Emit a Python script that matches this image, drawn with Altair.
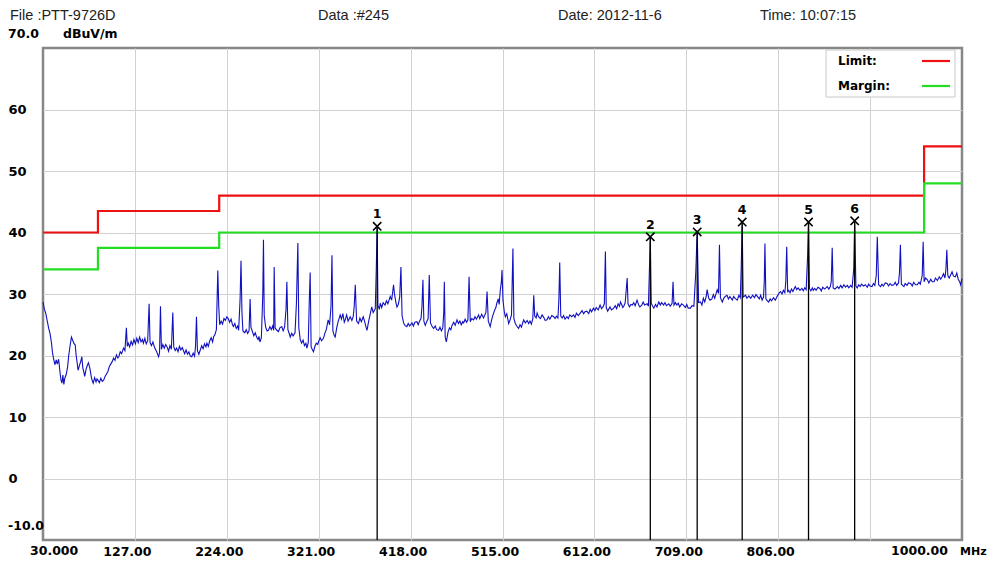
import altair as alt
import pandas as pd

# ---------------- data ----------------
limit_freq = [30, 88, 216, 960, 1000]
limit_level = [40, 43.5, 46, 54, 54]
margin_level = [34, 37.5, 40, 48, 48]

marker_freq = [382.7, 671.0, 720.5, 768.0, 838.0, 886.7]
marker_level = [41.0, 39.3, 40.1, 41.7, 41.7, 41.9]
marker_label = ["1", "2", "3", "4", "5", "6"]

x_grid_ticks = [127, 224, 321, 418, 515, 612, 709, 806, 903]
y_grid_ticks = [0, 10, 20, 30, 40, 50, 60]

header_texts = ["File :PTT-9726D", "Data :#245", "Date: 2012-11-6", "Time: 10:07:15"]

# measured trace (frequency MHz, level dBuV/m)
trace_points = [
    (30, 28.7), (31.5, 27.5), (33, 26.8), (34.5, 25.6), (36, 24.4), (37.5, 23.5), (39, 22.0),
    (40, 20.5), (41, 19.6), (42.5, 18.5), (44, 19.3), (45, 18.6), (46.5, 19.4), (48, 17.2),
    (49, 16.0), (50, 15.5), (51, 16.8), (52, 15.3), (53, 16.3), (54.5, 16.9), (56, 18.2),
    (57, 19.8), (58.5, 21.5), (60, 23.0), (61, 22.6), (62.5, 22.0), (64, 21.7), (65, 20.0),
    (66, 18.9), (67, 17.6), (68.5, 18.4), (70, 19.1), (71, 19.8), (72, 18.0), (73, 17.4),
    (74, 16.6), (75.5, 17.8), (77, 18.5), (78, 18.8), (79.5, 17.9), (81, 16.5), (82, 15.9),
    (83, 15.5), (84.5, 16.4), (86, 15.7), (87, 16.2), (88, 16.0), (89.5, 15.6), (91, 16.3),
    (92.5, 15.8), (94, 16.0), (95.5, 16.6), (97, 17.0), (98.5, 17.4), (100, 18.2), (101.5, 18.6),
    (103, 19.0), (104.5, 19.6), (106, 19.2), (107.5, 20.1), (109, 19.6), (110, 19.8),
    (111.5, 20.6), (113, 20.3), (115, 21.2), (116.5, 20.8), (118, 24.5), (119, 21.5),
    (120, 22.0), (121.5, 21.4), (123, 22.3), (124.5, 21.7), (126, 22.6), (127.5, 21.9),
    (129, 22.8), (130.5, 22.1), (132, 23.0), (133.5, 22.2), (135, 22.6), (136, 22.0),
    (137.5, 22.8), (139, 21.9), (140.5, 22.4), (142, 28.4), (143, 22.1), (144.5, 21.6),
    (146, 22.2), (148, 21.2), (150, 20.6), (152, 19.8), (153, 20.4), (154, 28.0), (155, 21.0),
    (156.5, 21.8), (158, 21.2), (159.5, 21.8), (161, 21.4), (162.5, 20.7), (164, 21.6),
    (165.5, 21.0), (167, 27.0), (168, 21.4), (169.5, 20.8), (171, 21.2), (172.5, 20.6),
    (174, 21.5), (175.5, 20.9), (177, 21.3), (178, 20.9), (179.5, 20.3), (181, 20.9),
    (182.5, 20.2), (184, 20.6), (185.5, 19.9), (187, 19.8), (188.5, 20.4), (190, 19.9),
    (191, 21.5), (192, 26.3), (193, 20.8), (194.5, 20.2), (196, 20.9), (197.5, 21.6),
    (199, 21.1), (200.5, 21.9), (202, 21.4), (203, 22.0), (204.5, 21.5), (206, 22.4),
    (207.5, 22.9), (209, 22.2), (210, 23.0), (211.5, 23.4), (213, 24.2), (214.5, 33.8),
    (215.5, 28.0), (216.5, 25.0), (218, 25.6), (219.5, 25.1), (221, 26.0), (222.5, 25.7),
    (224, 26.3), (225.5, 26.0), (227, 25.4), (228.5, 25.9), (230, 25.0), (231, 24.7),
    (232.5, 25.2), (234, 24.4), (235.5, 24.8), (236.5, 24.1), (238, 29.0), (239, 35.4),
    (240, 27.0), (241, 24.0), (243, 23.7), (244.5, 24.2), (246, 23.6), (247.5, 24.0),
    (248.6, 29.2), (249.5, 24.6), (251, 23.9), (252.5, 23.2), (254, 23.7), (255.5, 23.0),
    (257, 22.6), (258, 23.1), (259, 22.2), (260.5, 22.9), (262, 30.0), (262.7, 38.8),
    (263.5, 26.5), (265, 24.6), (266.5, 24.0), (268, 24.1), (269.5, 24.7), (271, 24.2),
    (272.5, 24.8), (273.5, 24.1), (274, 34.4), (275, 24.5), (276.8, 24.1), (278.5, 23.9),
    (280, 24.5), (282, 24.7), (283.5, 24.0), (285, 24.6), (286.5, 27.5), (287.4, 32.0),
    (288.5, 24.2), (290, 23.5), (291, 23.0), (292.5, 23.6), (294, 23.2), (296, 23.7),
    (297.5, 28.5), (299, 38.3), (300, 24.5), (301.5, 22.6), (303, 22.0), (304.5, 22.5),
    (306, 21.6), (307.5, 22.0), (308.5, 21.2), (310, 22.1), (311, 28.5), (312, 33.5),
    (313, 21.4), (314.5, 20.9), (315.5, 20.6), (317, 21.5), (318.5, 22.0), (320, 21.8),
    (320.8, 22.2), (322.5, 22.9), (324, 22.4), (326, 22.8), (327.5, 23.6), (329, 24.2),
    (331, 25.8), (332.5, 25.0), (334, 28.0), (335, 36.3), (336, 24.0), (337.5, 23.2),
    (338.4, 23.0), (340, 24.5), (341.5, 25.5), (343.7, 26.6), (345, 25.9), (346.5, 26.8),
    (348, 25.4), (349, 25.8), (350.5, 26.6), (352, 25.6), (354.3, 26.3), (356, 25.7),
    (357.5, 26.4), (358.5, 28.0), (359.6, 31.5), (361, 25.6), (363, 25.2), (364.5, 26.1),
    (366, 25.5), (368, 26.3), (369.5, 25.5), (371, 24.6), (372, 24.1), (373.5, 25.4),
    (375, 26.5), (377, 27.9), (378.5, 27.0), (380.7, 27.6), (381.8, 34.2), (382.7, 41.0),
    (383.5, 28.2), (385, 27.5), (386, 28.5), (387.5, 27.8), (389, 28.6), (391, 28.2),
    (392.5, 28.9), (394, 28.4), (396.5, 29.6), (398, 29.0), (399, 30.2), (400, 31.5),
    (401, 30.0), (402.5, 28.6), (403.6, 27.9), (405, 28.3), (406.5, 29.5), (407.8, 34.4),
    (409, 26.5), (410.6, 25.3), (412, 24.9), (414, 24.7), (415.5, 25.2), (417, 24.8),
    (419.5, 25.3), (421, 24.8), (422.5, 25.4), (424.7, 25.5), (426, 25.0), (427.5, 25.6),
    (429, 26.0), (430, 28.0), (431, 32.3), (432, 25.6), (433.5, 24.9), (435, 25.5),
    (436.5, 26.0), (437.7, 33.1), (439, 25.3), (440.5, 24.8), (442.3, 24.4), (444, 24.8),
    (445.5, 24.2), (447.5, 24.1), (449, 24.6), (450.5, 24.0), (452, 24.5), (453, 27.0),
    (453.6, 32.0), (454.5, 23.0), (455.7, 22.2), (457.5, 23.8), (459, 24.5), (460.5, 24.2),
    (461.7, 24.9), (463.5, 25.4), (465, 24.9), (467, 25.8), (468.5, 25.2), (470, 25.6),
    (471.5, 25.0), (473, 25.5), (474, 25.3), (475.5, 25.9), (477, 25.4), (478.5, 25.8),
    (479.7, 32.8), (481, 25.5), (482.5, 26.0), (484.5, 25.8), (486, 26.3), (487.5, 25.9),
    (489.8, 26.6), (491, 26.0), (493, 26.7), (495, 26.1), (497.5, 27.0), (498.7, 30.4),
    (500, 25.6), (502, 24.7), (503.5, 25.8), (505, 26.6), (506.5, 27.3), (508, 27.8),
    (509, 28.5), (510.5, 29.2), (511.5, 28.3), (512.7, 30.7), (513.7, 31.8), (514.5, 33.9),
    (515.5, 29.0), (517, 27.0), (518, 26.3), (519.5, 26.8), (521.5, 25.2), (523, 25.8),
    (524.5, 26.6), (526, 37.4), (527, 26.0), (528.6, 25.2), (530, 24.8), (532, 24.4),
    (533.5, 25.0), (535, 24.6), (536.5, 25.4), (537.4, 25.8), (539, 25.3), (541, 25.7),
    (542.6, 25.2), (544, 25.6), (545.5, 25.1), (547, 26.0), (548, 29.8), (549, 26.4),
    (550.5, 26.1), (551.5, 26.9), (553, 26.3), (555, 26.0), (556.8, 26.6), (558.5, 26.2),
    (560, 25.7), (562, 25.8), (563.5, 26.3), (565, 25.9), (567, 26.5), (569, 26.3),
    (570.5, 26.0), (572, 26.4), (573.5, 26.1), (574.5, 29.0), (575.4, 35.1), (576.5, 26.4),
    (578, 26.1), (579.5, 26.5), (581, 25.9), (583, 26.3), (584.5, 26.0), (586, 26.6),
    (588, 26.3), (590, 26.6), (591.5, 26.2), (593, 26.9), (595, 26.5), (597, 26.9),
    (599, 27.3), (600.5, 26.8), (602, 27.1), (604, 27.2), (606, 26.8), (607.5, 27.5),
    (609, 27.1), (611, 27.7), (612.5, 27.3), (614, 27.8), (616, 27.4), (618, 28.2),
    (619.5, 27.6), (621, 27.9), (622.5, 28.4), (623.6, 36.9), (624.5, 27.8), (626, 27.2),
    (627, 27.5), (628.5, 27.9), (630, 27.4), (632.4, 27.7), (634, 28.1), (635.5, 27.6),
    (637, 28.4), (638.5, 28.0), (639.5, 28.7), (641, 28.2), (642, 27.8), (643, 28.0),
    (644.5, 28.6), (646.6, 32.6), (647.5, 28.4), (649, 27.9), (650.5, 28.3), (652, 28.2),
    (653.5, 28.6), (655, 28.1), (657, 29.0), (658.5, 28.3), (660, 27.9), (662, 28.2),
    (663.5, 28.7), (665, 28.2), (667.7, 28.4), (669, 28.0), (670, 33.5), (671, 39.3),
    (672, 28.5), (673.5, 28.0), (674.7, 27.7), (676.5, 28.3), (678, 27.9), (680, 28.7),
    (681.5, 28.2), (683, 28.6), (685, 28.2), (686.5, 28.6), (688, 28.1), (690.5, 28.4),
    (692, 28.0), (694, 28.5), (695, 32.0), (696, 28.2), (697.5, 28.6), (699, 28.2),
    (700.5, 28.5), (702, 27.9), (704, 28.4), (706, 28.2), (708, 27.8), (709.5, 28.3),
    (711, 27.7), (713.4, 27.7), (715, 28.1), (717, 28.0), (719, 33.5), (720.5, 40.1),
    (722, 28.6), (724, 28.7), (725.5, 28.2), (727, 29.3), (728.5, 28.7), (730, 29.6),
    (731, 30.7), (732.5, 29.4), (734, 29.0), (736, 29.2), (737.5, 29.9), (739, 29.3),
    (741.6, 30.7), (743, 30.1), (744, 38.0), (745, 29.4), (747, 28.7), (748.5, 29.3),
    (750, 29.6), (752, 29.8), (753.5, 29.2), (755, 29.6), (757.5, 29.0), (759, 29.6),
    (760.5, 29.3), (762.8, 29.0), (764.5, 29.8), (766, 29.4), (767, 34.5), (768, 41.7),
    (769, 29.5), (771.5, 29.8), (773, 29.3), (775, 29.7), (777, 29.3), (779, 29.8),
    (781, 29.4), (782.5, 29.9), (784, 29.6), (786, 29.2), (787.5, 29.8), (789, 29.0),
    (790.5, 29.5), (791.3, 32.0), (792, 38.2), (793, 29.2), (794.5, 28.9), (796, 28.7),
    (797.5, 29.2), (799, 28.9), (801, 29.4), (803, 29.0), (804.5, 29.5), (806, 29.9),
    (807, 30.2), (808.5, 30.4), (810, 30.0), (811.5, 30.6), (813, 30.2), (814, 32.0),
    (815, 37.7), (816, 30.3), (817, 30.6), (818.5, 30.2), (820, 30.8), (821.5, 30.4),
    (823, 30.9), (824, 31.2), (825.5, 30.7), (827, 31.0), (829, 30.6), (831, 30.9),
    (832.5, 30.5), (834, 31.0), (835.5, 30.7), (837, 36.0), (838, 41.7), (839, 30.9),
    (840.5, 30.5), (842, 31.0), (843, 30.6), (844.5, 30.9), (846, 30.6), (848, 31.1),
    (850, 30.9), (851.5, 30.5), (853, 31.1), (855, 30.8), (857.8, 31.2), (859.5, 30.8),
    (861, 31.2), (862, 32.0), (863, 37.5), (864, 31.0), (866, 30.8), (868.4, 31.2),
    (870, 30.9), (872, 31.4), (873.5, 31.0), (875.4, 31.5), (877, 31.1), (879, 31.4),
    (880.5, 31.0), (882.5, 31.4), (884, 31.1), (885.7, 34.0), (886.7, 41.9), (888, 31.3),
    (889.5, 31.0), (891, 31.5), (892.5, 31.2), (894, 31.6), (896, 31.3), (898, 31.5),
    (900, 31.1), (901.5, 31.6), (903, 31.3), (905, 31.2), (906.5, 31.7), (908, 31.4),
    (909.5, 33.0), (910.6, 39.3), (912, 31.5), (914, 31.2), (915.5, 31.6), (917, 31.3),
    (919, 31.8), (921, 31.7), (922.5, 31.3), (924, 31.7), (926, 31.4), (928, 31.5),
    (929.5, 31.9), (931, 31.4), (933, 31.8), (934, 33.5), (935, 38.0), (936, 31.6),
    (938.7, 31.2), (940, 31.7), (942, 31.4), (943.5, 31.8), (945.8, 31.7), (947.5, 31.3),
    (949, 31.9), (951, 31.5), (952.8, 31.5), (954.5, 31.9), (956, 31.6), (958, 33.0),
    (959, 38.5), (960, 32.0), (961.5, 32.6), (963.5, 32.3), (965, 31.8), (967, 32.4),
    (968.5, 32.0), (970.5, 32.0), (972, 32.6), (974, 32.2), (976, 32.8), (977.5, 32.4),
    (979, 32.8), (980.5, 33.3), (982, 32.6), (983, 34.0), (984, 37.2), (985, 33.0),
    (986.5, 32.6), (988, 33.1), (989.5, 33.6), (991, 32.9), (993, 32.8), (994.5, 33.4),
    (996, 32.4), (997.5, 32.0), (998.5, 31.5), (1000, 32.5),
]

# ---------------- frames ----------------
trace_df = pd.DataFrame(trace_points, columns=["f", "v"])
limit_df = pd.DataFrame({"f": limit_freq, "v": limit_level})
margin_df = pd.DataFrame({"f": limit_freq, "v": margin_level})
marker_df = pd.DataFrame({"f": marker_freq, "v": marker_level, "lab": marker_label, "bottom": -10})
one = pd.DataFrame({"a": [0]})

W, H = 919, 492
FONT_B = "DejaVu Sans"
FONT_H = "Liberation Sans"

xs = alt.Scale(domain=[30, 1000], nice=False, zero=False)
ys = alt.Scale(domain=[-10, 70], nice=False, zero=False)

xa = alt.Axis(
    values=x_grid_ticks, title=None, domain=False, ticks=False, tickSize=0,
    grid=True, gridColor="#d2d2d2", gridWidth=1,
    labelExpr="datum.value == 903 ? '' : format(datum.value, '.2f')",
    labelFont=FONT_B, labelFontWeight="bold", labelFontSize=12.5, labelColor="#000000",
    labelPadding=5, labelOffset=-8, labelOverlap=False, labelFlush=False, labelBound=False,
)
ya = alt.Axis(
    values=y_grid_ticks, title=None, domain=False, ticks=False, tickSize=0,
    grid=True, gridColor="#d2d2d2", gridWidth=1,
    labelFont=FONT_B, labelFontWeight="bold", labelFontSize=13, labelColor="#000000",
    labelAlign="left", labelPadding=35, labelOverlap=False, labelFlush=False,
)

X = alt.X("f:Q", scale=xs, axis=xa)
Y = alt.Y("v:Q", scale=ys, axis=ya)

limit = alt.Chart(limit_df).mark_line(interpolate="step-after", color="#ee1111", strokeWidth=2.2).encode(x=X, y=Y)
margin = alt.Chart(margin_df).mark_line(interpolate="step-after", color="#22dd22", strokeWidth=2.2).encode(x=X, y=Y)
trace = alt.Chart(trace_df).mark_line(color="#1010c0", strokeWidth=1.1).encode(x=X, y=Y)

mk_lines = alt.Chart(marker_df).mark_rule(color="#000000", strokeWidth=1.3).encode(
    x=X, y=Y, y2=alt.Y2("bottom:Q"))
mk_x = alt.Chart(marker_df).mark_point(
    shape="M-1,-1L1,1M-1,1L1,-1", filled=False, color="#000000", strokeWidth=1.6, size=70, opacity=1
).encode(x=X, y=Y)
mk_lab = alt.Chart(marker_df).mark_text(
    font=FONT_B, fontWeight="bold", fontSize=12.5, color="#000000", dy=-12, baseline="middle"
).encode(x=X, y=Y, text="lab:N")

# y labels at the extremes, drawn above their lines as in the reference
ext_df = pd.DataFrame({"v": [70, -10], "lab": ["70.0", "-10.0"], "f": [30, 30]})
ext_top = alt.Chart(ext_df.iloc[[0]]).mark_text(
    font=FONT_B, fontWeight="bold", fontSize=12.5, color="#000000", align="left", baseline="middle", dy=-14
).encode(x=alt.value(-35), y=Y, text="lab:N")
ext_bot = alt.Chart(ext_df.iloc[[1]]).mark_text(
    font=FONT_B, fontWeight="bold", fontSize=12.5, color="#000000", align="left", baseline="middle", dy=-14
).encode(x=alt.value(-35), y=Y, text="lab:N")
unit_y = alt.Chart(one).mark_text(
    text="dBuV/m", font=FONT_B, fontWeight="bold", fontSize=12.5, color="#000000", align="left", baseline="middle"
).encode(x=alt.value(20), y=alt.value(-14))

# x extreme labels
xl_df = pd.DataFrame({"f": [30, 1000], "lab": ["30.000", "1000.00"], "v": [-10, -10]})
x_first = alt.Chart(xl_df.iloc[[0]]).mark_text(
    font=FONT_B, fontWeight="bold", fontSize=12.5, color="#000000", align="left", baseline="top", dx=-13
).encode(x=X, y=alt.value(H + 5), text="lab:N")
x_last = alt.Chart(xl_df.iloc[[1]]).mark_text(
    font=FONT_B, fontWeight="bold", fontSize=12.5, color="#000000", align="right", baseline="top", dx=-14
).encode(x=X, y=alt.value(H + 5), text="lab:N")
x_unit = alt.Chart(one).mark_text(
    text="MHz", font=FONT_B, fontWeight="bold", fontSize=11, color="#000000", align="left", baseline="top"
).encode(x=alt.value(W - 2), y=alt.value(H + 6))

# header
hx = [-33, 275, 515, 717]
headers = [
    alt.Chart(one).mark_text(text=t, font=FONT_H, fontSize=14.5, color="#222222", align="left", baseline="middle")
    .encode(x=alt.value(px), y=alt.value(-32))
    for t, px in zip(header_texts, hx)
]

# legend box
leg_box = alt.Chart(one).mark_rect(fill="#ffffff", stroke="#c8c8c8", strokeWidth=1).encode(
    x=alt.value(783), x2=alt.value(912), y=alt.value(2), y2=alt.value(49))
leg_t1 = alt.Chart(one).mark_text(text="Limit:", font=FONT_B, fontWeight="bold", fontSize=12, color="#000000",
                                  align="left", baseline="middle").encode(x=alt.value(795), y=alt.value(13))
leg_t2 = alt.Chart(one).mark_text(text="Margin:", font=FONT_B, fontWeight="bold", fontSize=12, color="#000000",
                                  align="left", baseline="middle").encode(x=alt.value(795), y=alt.value(38))
leg_r1 = alt.Chart(one).mark_rule(color="#ee1111", strokeWidth=2.2).encode(
    x=alt.value(879), x2=alt.value(907), y=alt.value(13))
leg_r2 = alt.Chart(one).mark_rule(color="#22dd22", strokeWidth=2.2).encode(
    x=alt.value(879), x2=alt.value(907), y=alt.value(38))

chart = alt.layer(
    limit, margin, trace, mk_lines, mk_x, mk_lab,
    ext_top, ext_bot, unit_y, x_first, x_last, x_unit,
    *headers, leg_box, leg_t1, leg_t2, leg_r1, leg_r2,
).properties(
    width=W, height=H, autosize="none",
    padding={"left": 35, "top": 40, "right": 26, "bottom": 17},
    background="#ffffff",
).configure_view(stroke="#878787", strokeWidth=2.5)

chart.save("out.html", embed_options={"renderer": "svg", "actions": False})
